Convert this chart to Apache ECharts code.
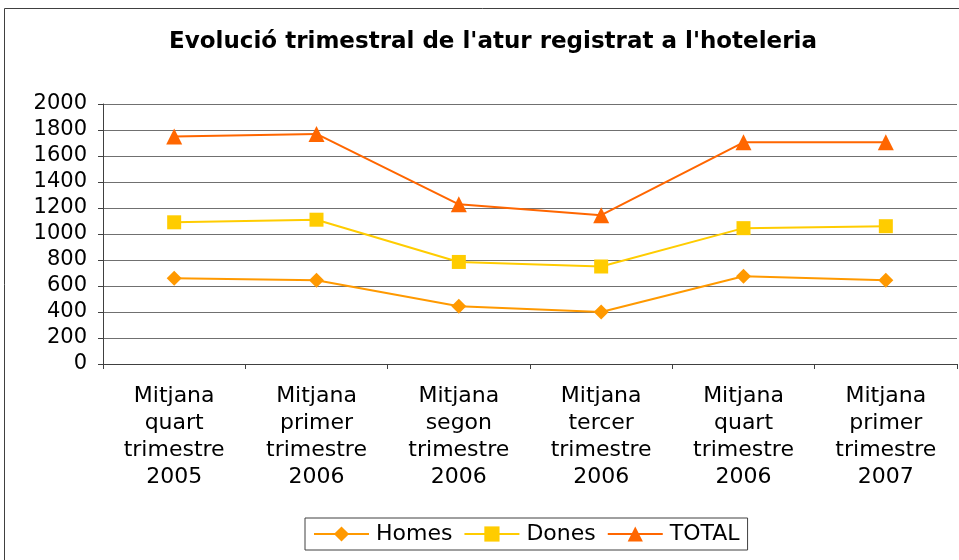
<!DOCTYPE html>
<html>
<head>
<meta charset="utf-8">
<script src="https://cdn.jsdelivr.net/npm/echarts@6/dist/echarts.min.js"></script>
<style>
  html, body { margin: 0; padding: 0; background: #fff; }
  #chart { width: 959px; height: 560px; }
</style>
</head>
<body>
<div id="chart"></div>
<script>
// Data
const categories = [
    'Mitjana\nquart\ntrimestre\n2005',
    'Mitjana\nprimer\ntrimestre\n2006',
    'Mitjana\nsegon\ntrimestre\n2006',
    'Mitjana\ntercer\ntrimestre\n2006',
    'Mitjana\nquart\ntrimestre\n2006',
    'Mitjana\nprimer\ntrimestre\n2007'
];
const homes = [660, 645, 445, 400, 675, 645];
const dones = [1090, 1110, 785, 750, 1045, 1060];
const total = [1750, 1770, 1228, 1145, 1705, 1705];

const chart = echarts.init(document.getElementById('chart'));
const font = 'DejaVu Sans, Verdana, sans-serif';

function lineSeries(name, data, color, symbol, size) {
    return {
        name, type: 'line', data,
        symbol, symbolSize: size,
        lineStyle: { color, width: 2 },
        itemStyle: { color },
        emphasis: { disabled: true }
    };
}

chart.setOption({
    animation: false,
    title: {
        text: "Evolució trimestral de l'atur registrat a l'hoteleria",
        left: 488, top: 26, textAlign: 'center',
        textStyle: { fontFamily: font, fontSize: 23, fontWeight: 'bold', color: '#000' }
    },
    graphic: [{
        type: 'rect', silent: true,
        shape: { x: 4.5, y: 8.5, width: 1000, height: 1000 },
        style: { fill: 'none', stroke: '#404040', lineWidth: 1 }
    }],
    legend: {
        left: 305, top: 518,
        padding: [5, 8],
        borderColor: '#404040', borderWidth: 1,
        itemWidth: 55, itemHeight: 19, itemGap: 11,
        textStyle: { fontFamily: font, fontSize: 22, color: '#000', padding: [0, 0, 0, 2] },
        data: ['Homes', 'Dones', 'TOTAL']
    },
    grid: { left: 103, top: 104, right: 2, bottom: 196, containLabel: false },
    xAxis: {
        type: 'category', data: categories, boundaryGap: true,
        axisLine: { lineStyle: { color: '#404040', width: 1 } },
        axisTick: { show: true, alignWithLabel: false, length: 5, inside: false, lineStyle: { color: '#404040' } },
        axisLabel: { interval: 0, margin: 19, lineHeight: 27, fontFamily: font, fontSize: 22, color: '#000' }
    },
    yAxis: {
        type: 'value', min: 0, max: 2000, interval: 200,
        axisLine: { show: true, lineStyle: { color: '#404040', width: 1 } },
        axisTick: { show: true, length: 5, lineStyle: { color: '#404040' } },
        axisLabel: { margin: 16, fontFamily: font, fontSize: 21, color: '#000', formatter: v => String(v) },
        splitLine: { lineStyle: { color: '#707070', width: 1 } }
    },
    series: [
        lineSeries('Homes', homes, '#FF9900', 'diamond', 15),
        lineSeries('Dones', dones, '#FFCC00', 'rect', 14),
        lineSeries('TOTAL', total, '#FF6600', 'triangle', 16)
    ]
});
</script>
</body>
</html>
